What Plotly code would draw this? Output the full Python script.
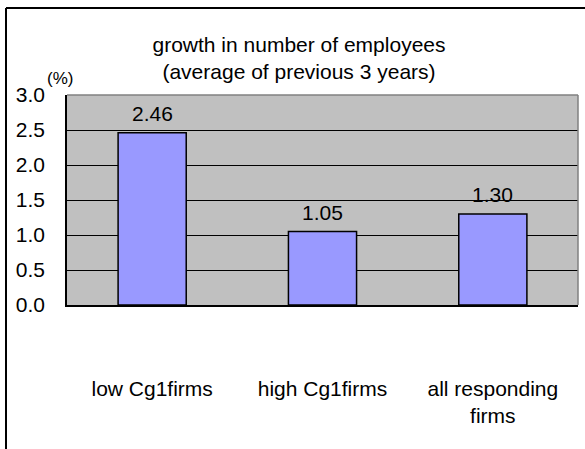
import plotly.graph_objects as go

categories = ["low Cg1firms", "high Cg1firms", "all responding<br>firms"]
values = [2.46, 1.05, 1.30]
value_labels = ["2.46", "1.05", "1.30"]
y_ticks = [0.0, 0.5, 1.0, 1.5, 2.0, 2.5, 3.0]
y_tick_labels = ["0.0", "0.5", "1.0", "1.5", "2.0", "2.5", "3.0"]

FONT = "Arial, Liberation Sans, sans-serif"
FS = 21
W, H = 585, 449
L, R, T, B = 67, 7, 95, 144
pw, ph = W - L - R, H - T - B

fig = go.Figure()
fig.add_trace(go.Bar(
    x=categories, y=values, width=0.4,
    marker=dict(color="#9999FF", line=dict(color="#000000", width=1.5)),
    hoverinfo="skip",
))

for c, v, t in zip(categories, values, value_labels):
    fig.add_annotation(x=c, y=v, xref="x", yref="y", text=t, showarrow=False,
                       yanchor="bottom", yshift=6,
                       font=dict(family=FONT, size=FS, color="#000000"))

def px_x(p):
    return (p - L) / pw

def px_y(p):
    return (H - B - p) / ph

shapes = [
    dict(type="line", xref="paper", yref="paper", x0=0, x1=1, y0=1, y1=1,
         line=dict(color="#808080", width=1.5), layer="above"),
    dict(type="line", xref="paper", yref="paper", x0=1, x1=1, y0=0, y1=1,
         line=dict(color="#808080", width=1.5), layer="above"),
    dict(type="line", xref="paper", yref="paper", x0=px_x(6), x1=px_x(6), y0=px_y(8), y1=px_y(H + 5),
         line=dict(color="#000000", width=2)),
    dict(type="line", xref="paper", yref="paper", x0=px_x(6), x1=px_x(W + 5), y0=px_y(8), y1=px_y(8),
         line=dict(color="#000000", width=2)),
]

fig.add_annotation(text="(%)", xref="paper", yref="paper", x=px_x(60), y=px_y(78),
                   showarrow=False, xanchor="center", yanchor="middle",
                   font=dict(family=FONT, size=17, color="#000000"))

fig.update_layout(
    width=W, height=H,
    margin=dict(l=L, r=R, t=T, b=B, pad=0),
    paper_bgcolor="#FFFFFF",
    plot_bgcolor="#C0C0C0",
    showlegend=False,
    shapes=shapes,
    title=dict(text="growth in number of employees<br>(average of previous 3 years)",
               xref="container", yref="container", x=299 / W, xanchor="center",
               y=1 - 52 / H, yanchor="top",
               font=dict(family=FONT, size=FS, color="#000000")),
    font=dict(family=FONT, size=FS, color="#000000"),
)

fig.update_xaxes(
    showgrid=False, showline=True, linecolor="#000000", linewidth=1.5,
    ticks="", ticklabelstandoff=64, zeroline=False,
    tickfont=dict(family=FONT, size=FS, color="#000000"),
)
fig.update_yaxes(
    range=[0, 3.0], tickvals=y_ticks, ticktext=y_tick_labels,
    showgrid=True, gridcolor="#000000", gridwidth=1,
    showline=True, linecolor="#000000", linewidth=1.5,
    ticks="inside", ticklen=4, tickcolor="#000000",
    ticklabelstandoff=16, zeroline=False,
    tickfont=dict(family=FONT, size=FS, color="#000000"),
)

fig.write_html("out.html")
